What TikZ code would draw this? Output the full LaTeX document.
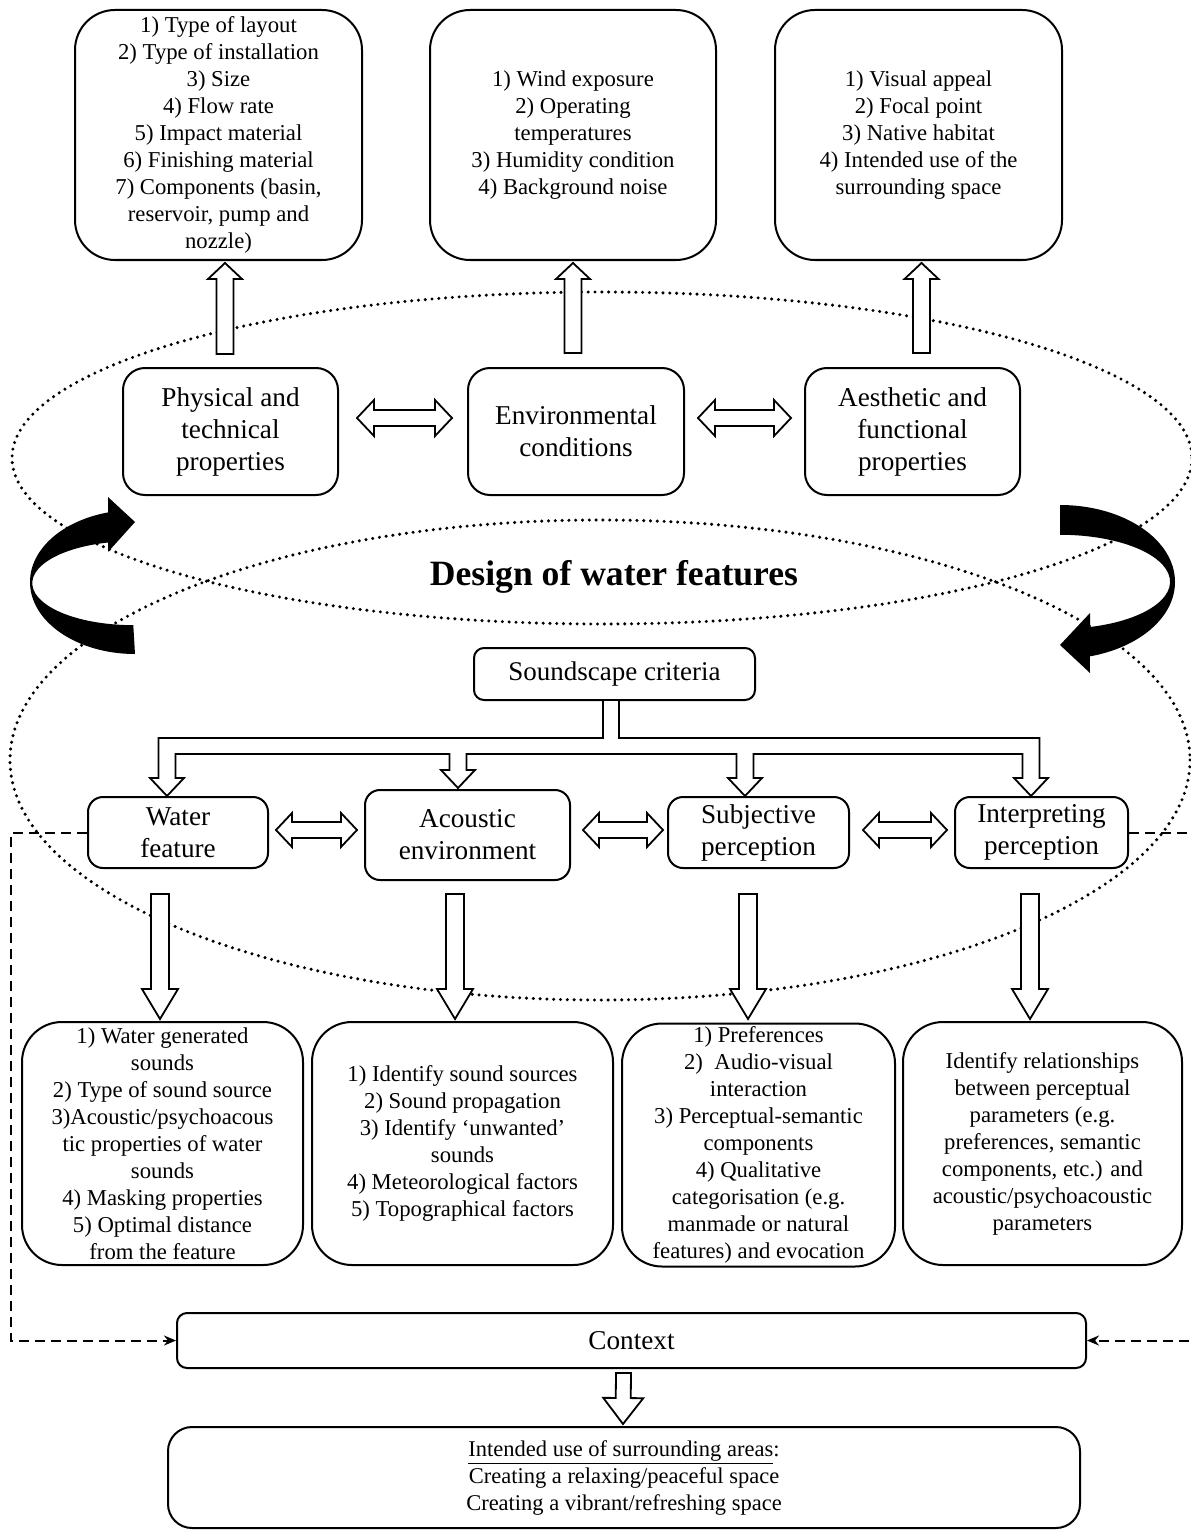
\documentclass[tikz,border=0pt]{standalone}
\usepackage{fontspec}
\setmainfont{Liberation Serif}
\usetikzlibrary{calc,arrows.meta}

\tikzset{
 box/.style={draw, line width=1pt, fill=white, align=center, inner sep=0pt},
 listbox/.style={box, rounded corners=20pt, font=\fontsize{11.35}{13.5}\selectfont},
 midbox/.style={box, rounded corners=11pt, font=\fontsize{13.6}{16}\selectfont},
 rowbox/.style={box, rounded corners=7.5pt, font=\fontsize{13.6}{16}\selectfont},
 hollow/.style={draw, line width=0.9pt, fill=white, line join=miter},
 dotline/.style={line width=1.7pt, dash pattern=on 0pt off 3.4pt, line cap=round},
 dashline/.style={line width=1pt, dash pattern=on 5pt off 3pt},
}

\newcommand\blockarrow[5]{%
  \coordinate (bah) at ($(#2)!#5!(#1)$);
  \draw[hollow] ($(#1)!#3!90:(#2)$) -- ($(bah)!#3!90:(#2)$) -- ($(bah)!#4!90:(#2)$) -- (#2) -- ($(bah)!#4!-90:(#2)$) -- ($(bah)!#3!-90:(#2)$) -- ($(#1)!#3!-90:(#2)$) -- cycle;}

\newcommand\blockdouble[5]{%
  \coordinate (bda) at ($(#1)!#5!(#2)$);
  \coordinate (bdb) at ($(#2)!#5!(#1)$);
  \draw[hollow] (#1) -- ($(bda)!#4!90:(#2)$) -- ($(bda)!#3!90:(#2)$) -- ($(bdb)!#3!90:(#2)$) -- ($(bdb)!#4!90:(#2)$) -- (#2) -- ($(bdb)!#4!-90:(#2)$) -- ($(bdb)!#3!-90:(#2)$) -- ($(bda)!#3!-90:(#2)$) -- ($(bda)!#4!-90:(#2)$) -- cycle;}

\begin{document}
\begin{tikzpicture}[x=0.5pt,y=-0.5pt]
\useasboundingbox (0,0) rectangle (1190,1530);

% dotted ellipses
\draw[dotline] (602,458) ellipse[x radius=590, y radius=166];
\draw[dotline] (600,760) ellipse[x radius=590, y radius=240];

% curved black arrows
\fill (135,654) arc[start angle=90, end angle=255.1, x radius=105, y radius=72]
  -- (108,497) -- (135,522) -- (108,552) -- (108,542.5)
  arc[start angle=255.5, end angle=90, x radius=101, y radius=42] -- cycle;
\fill (1060,505) arc[start angle=-90, end angle=75, x radius=115, y radius=77]
  -- (1090,673) -- (1060,645) -- (1090,613) -- (1090,627)
  arc[start angle=74.2, end angle=-90, x radius=110, y radius=47] -- cycle;

% top boxes
\node[listbox, minimum width=143.5pt, minimum height=125pt] (A1) at (218.5,135)
 {1) Type of layout\\2) Type of installation\\3) Size\\4) Flow rate\\5) Impact material\\6) Finishing material\\7) Components (basin,\\reservoir, pump and\\nozzle)};
\node[listbox, minimum width=143pt, minimum height=125pt] (A2) at (573,135)
 {1) Wind exposure\\2) Operating\\temperatures\\3) Humidity condition\\4) Background noise};
\node[listbox, minimum width=143.5pt, minimum height=125pt] (A3) at (918.5,135)
 {1) Visual appeal\\2) Focal point\\3) Native habitat\\4) Intended use of the\\surrounding space};

% middle boxes
\node[midbox, minimum width=107.5pt, minimum height=63.5pt] (P) at (230.5,431.5) {Physical and\\technical\\properties};
\node[midbox, minimum width=108pt, minimum height=63.5pt] (E) at (576,431.5) {Environmental\\conditions};
\node[midbox, minimum width=107.5pt, minimum height=63.5pt] (Ae) at (912.5,431.5) {Aesthetic and\\functional\\properties};

% title
\node[font=\fontsize{17.8}{21}\selectfont\bfseries] (T) at (614,577) {Design of water features};

% soundscape
\node[box, rounded corners=5pt, minimum width=140.5pt, minimum height=26pt, font=\fontsize{13.5}{16}\selectfont] (SC) at (614.5,674) {Soundscape criteria};

% row boxes
\node[rowbox, minimum width=90pt, minimum height=35.5pt] (W) at (178,832.5) {Water\\feature};
\node[rowbox, minimum width=102.5pt, minimum height=45pt] (Ac) at (467.5,835) {Acoustic\\environment};
\node[rowbox, minimum width=90.5pt, minimum height=35.5pt] (S) at (758.5,832.5) {Subjective\\perception};
\node[rowbox, minimum width=86.5pt, minimum height=35.5pt] (I) at (1041.5,832.5) {Interpreting\\perception};

% bottom boxes
\node[listbox, minimum width=140.5pt, minimum height=121.5pt] (B1) at (162.5,1143.5)
 {1) Water generated\\sounds\\2) Type of sound source\\3)Acoustic/psychoacous\\tic properties of water\\sounds\\4) Masking properties\\5) Optimal distance\\from the feature};
\node[listbox, minimum width=150.5pt, minimum height=121.5pt] (B2) at (462.5,1143.5)
 {1) Identify sound sources\\2) Sound propagation\\3) Identify ‘unwanted’\\sounds\\4) Meteorological factors\\5) Topographical factors};
\node[listbox, minimum width=136.5pt, minimum height=121.5pt] (B3) at (758.5,1145)
 {1) Preferences\\2)\ \ Audio-visual\\interaction\\3) Perceptual-semantic\\components\\4) Qualitative\\categorisation (e.g.\\manmade or natural\\features) and evocation};
\node[listbox, minimum width=139.5pt, minimum height=121.5pt] (B4) at (1042.5,1143.5)
 {Identify relationships\\between perceptual\\parameters (e.g.\\preferences, semantic\\components, etc.) and\\acoustic/psychoacoustic\\parameters};

% context and final
\node[box, rounded corners=5pt, minimum width=454.5pt, minimum height=27.5pt, font=\fontsize{13.6}{16}\selectfont] (Ctx) at (631.5,1340.5) {Context};
\node[box, rounded corners=12pt, minimum width=456pt, minimum height=50.5pt, font=\fontsize{11.25}{13.5}\selectfont] (F) at (624,1477.5)
 {\underline{Intended use of surrounding areas}:\\Creating a relaxing/peaceful space\\Creating a vibrant/refreshing space};

% up arrows
\coordinate (u1a) at ($(P.north)+(-5.5,-13)$);  \coordinate (u1b) at ($(A1.south)+(6.5,2)$);
\coordinate (u2a) at ($(E.north)+(-3,-14)$);    \coordinate (u2b) at ($(A2.south)+(0,2)$);
\coordinate (u3a) at ($(Ae.north)+(9,-14)$);    \coordinate (u3b) at ($(A3.south)+(3,2)$);
\blockarrow{u1a}{u1b}{4.25pt}{8.5pt}{8pt}
\blockarrow{u2a}{u2b}{4.25pt}{8.5pt}{8pt}
\blockarrow{u3a}{u3b}{4.25pt}{8.5pt}{8pt}

% middle double arrows
\coordinate (d1a) at ($(P.east)+(18,-13.5)$);  \coordinate (d1b) at ($(E.west)+(-15,-13.5)$);
\coordinate (d2a) at ($(E.east)+(13,-13.5)$);  \coordinate (d2b) at ($(Ae.west)+(-13,-13.5)$);
\blockdouble{d1a}{d1b}{4pt}{9pt}{8.5pt}
\blockdouble{d2a}{d2b}{4pt}{9pt}{8.5pt}

% row double arrows
\coordinate (r1a) at ($(W.east)+(7,-2.5)$);   \coordinate (r1b) at ($(Ac.west)+(-7,-5)$);
\coordinate (r2a) at ($(Ac.east)+(12,-5)$);   \coordinate (r2b) at ($(S.west)+(-4,-2.5)$);
\coordinate (r3a) at ($(S.east)+(13,-2.5)$);  \coordinate (r3b) at ($(I.west)+(-7,-2.5)$);
\blockdouble{r1a}{r1b}{4pt}{8.5pt}{8pt}
\blockdouble{r2a}{r2b}{4pt}{8.5pt}{8pt}
\blockdouble{r3a}{r3b}{4pt}{8.5pt}{8pt}

% soundscape branching arrow
\coordinate (sc) at ($(SC.south)+(-3.5,0)$);
\coordinate (tW) at ($(W.north)+(-11,0)$);
\coordinate (tA) at ($(Ac.north)+(-9.5,-1)$);
\coordinate (tS) at ($(S.north)+(-13.5,0)$);
\coordinate (tI) at ($(I.north)+(-10.5,0)$);
\draw[hollow] let \p1=(sc), \p2=(tW), \p3=(tA), \p4=(tS), \p5=(tI) in
 (\x1-4pt,\y1) -- (\x1-4pt,\y1-18.5pt) -- (\x2-4.25pt,\y1-18.5pt) -- (\x2-4.25pt,\y2+9pt) -- (\x2-8.5pt,\y2+9pt) -- (\x2,\y2) -- (\x2+8.5pt,\y2+9pt) -- (\x2+4.25pt,\y2+9pt) -- (\x2+4.25pt,\y1-26.5pt)
 -- (\x3-4.25pt,\y1-26.5pt) -- (\x3-4.25pt,\y3+9pt) -- (\x3-8.5pt,\y3+9pt) -- (\x3,\y3) -- (\x3+8.5pt,\y3+9pt) -- (\x3+4.25pt,\y3+9pt) -- (\x3+4.25pt,\y1-26.5pt)
 -- (\x4-4.25pt,\y1-26.5pt) -- (\x4-4.25pt,\y4+9pt) -- (\x4-8.5pt,\y4+9pt) -- (\x4,\y4) -- (\x4+8.5pt,\y4+9pt) -- (\x4+4.25pt,\y4+9pt) -- (\x4+4.25pt,\y1-26.5pt)
 -- (\x5-4.25pt,\y1-26.5pt) -- (\x5-4.25pt,\y5+9pt) -- (\x5-8.5pt,\y5+9pt) -- (\x5,\y5) -- (\x5+8.5pt,\y5+9pt) -- (\x5+4.25pt,\y5+9pt) -- (\x5+4.25pt,\y1-18.5pt)
 -- (\x1+4pt,\y1-18.5pt) -- (\x1+4pt,\y1);

% down arrows to bottom boxes
\coordinate (v1a) at ($(W.south)+(-18,25)$);    \coordinate (v1b) at ($(B1.north)+(-2.5,-2)$);
\coordinate (v2a) at ($(Ac.south)+(-12.5,13)$); \coordinate (v2b) at ($(B2.north)+(-7.5,-2)$);
\coordinate (v3a) at ($(S.south)+(-10.5,25)$);  \coordinate (v3b) at ($(B3.north)+(-10.5,-3.5)$);
\coordinate (v4a) at ($(I.south)+(-11.5,25)$);  \coordinate (v4b) at ($(B4.north)+(-12.5,-2)$);
\blockarrow{v1a}{v1b}{4.5pt}{9pt}{15pt}
\blockarrow{v2a}{v2b}{4.5pt}{9pt}{15pt}
\blockarrow{v3a}{v3b}{4.5pt}{9pt}{15pt}
\blockarrow{v4a}{v4b}{4.5pt}{9pt}{15pt}

% context arrow
\coordinate (c1a) at ($(Ctx.south)+(-8,4)$); \coordinate (c1b) at ($(F.north)+(-1,-2)$);
\blockarrow{c1a}{c1b}{3.75pt}{10pt}{13pt}

% dashed feedback lines
\draw[dashline, -{Stealth[length=6pt, width=5pt]}] (W.west) -- ++(-76,0) |- (Ctx.west);
\draw[dashline, -{Stealth[length=6pt, width=5pt]}] (I.east) -- ++(72,0) |- (Ctx.east);
\end{tikzpicture}
\end{document}
